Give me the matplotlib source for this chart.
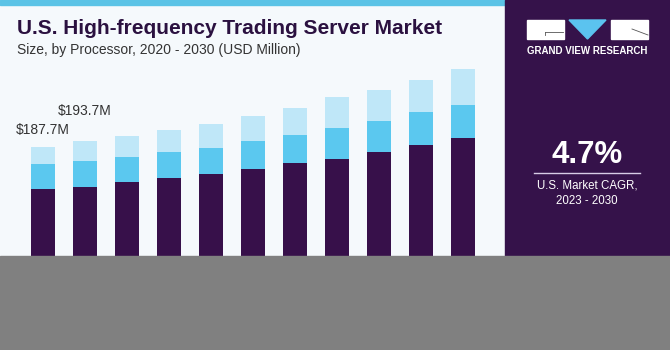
import matplotlib
matplotlib.use("Agg")
import matplotlib.pyplot as plt
from matplotlib.patches import Rectangle, Polygon
from matplotlib.lines import Line2D

years = [2020, 2021, 2022, 2023, 2024, 2025, 2026, 2027, 2028, 2029, 2030]
seg_dark = [143.5, 145.3, 150.2, 154.4, 158.6, 164.5, 170.2, 175.1, 181.8, 189.2, 197.2]
seg_mid = [25.7, 27.3, 27.0, 27.7, 28.0, 29.2, 30.1, 32.3, 33.3, 34.7, 34.1]
seg_light = [18.5, 21.1, 22.1, 23.2, 24.7, 26.6, 28.4, 32.3, 32.3, 34.0, 38.2]
value_labels = {0: "$187.7M", 1: "$193.7M"}
title = "U.S. High-frequency Trading Server Market"
subtitle = "Size, by Processor, 2020 - 2030 (USD Million)"
cagr = "4.7%"
cagr_text = "U.S. Market CAGR,\n2023 - 2030"

W, H = 670, 350
C_DARK = "#37104a"
C_MID = "#5bc8ef"
C_LIGHT = "#bfe7f8"
C_BG = "#f5f9fc"
C_PANEL = "#35124a"

def fx(x):
    return x / W

def fy(y):
    return 1 - y / H

fig = plt.figure(figsize=(6.7, 3.5), dpi=100)
fig.patch.set_facecolor(C_BG)

# axes: x 0..505 px, y 0..325 px from top
ax = fig.add_axes([0, fy(325), fx(505), 325 / H])
ax.set_facecolor(C_BG)
ax.axis("off")
x = list(range(len(years)))
bw = 24 / 42
ax.bar(x, seg_dark, width=bw, color=C_DARK, zorder=2)
bottom2 = [d for d in seg_dark]
ax.bar(x, seg_mid, width=bw, bottom=bottom2, color=C_MID, zorder=2)
bottom3 = [d + m for d, m in zip(seg_dark, seg_mid)]
ax.bar(x, seg_light, width=bw, bottom=bottom3, color=C_LIGHT, zorder=2)
ax.set_xlim(-42.7 / 42, -42.7 / 42 + 505 / 42)
ax.set_ylim(0, 325 / 0.95)

totals = [d + m + l for d, m, l in zip(seg_dark, seg_mid, seg_light)]
offsets = {0: 12, 1: 21.6}
for i, lab in value_labels.items():
    ax.annotate(lab, xy=(i, totals[i]), xytext=(0, offsets[i]), textcoords="offset points",
                ha="center", va="center", fontsize=10, color="#333333", family="Liberation Sans")

# top stripe
fig.add_artist(Rectangle((0, fy(5)), fx(505), 5 / H, transform=fig.transFigure,
                         color="#5bc3e6", zorder=3))
# title
fig.text(fx(17), fy(29), title, fontsize=15, fontweight="bold", color="#2b1140",
         va="center", ha="left", family="Liberation Sans", zorder=4)
fig.text(fx(17), fy(50), subtitle, fontsize=10, color="#333333",
         va="center", ha="left", family="Liberation Sans", zorder=4)

# right panel
fig.add_artist(Rectangle((fx(505), fy(256)), fx(165), 256 / H, transform=fig.transFigure,
                         color=C_PANEL, zorder=3))
# logo
fig.add_artist(Rectangle((fx(527), fy(39)), fx(37), 19 / H, transform=fig.transFigure,
                         color="white", zorder=4))
fig.add_artist(Rectangle((fx(611), fy(39)), fx(37), 19 / H, transform=fig.transFigure,
                         color="white", zorder=4))
fig.add_artist(Polygon([(fx(569), fy(20)), (fx(606), fy(20)), (fx(587.5), fy(39))],
                       closed=True, transform=fig.transFigure, color="#5bc3ef", zorder=4))
fig.add_artist(Line2D([fx(545), fx(563)], [fy(32), fy(32)], transform=fig.transFigure,
                      color="#555555", lw=0.6, zorder=5))
fig.add_artist(Line2D([fx(545), fx(545)], [fy(32), fy(35)], transform=fig.transFigure,
                      color="#555555", lw=0.6, zorder=5))
fig.add_artist(Line2D([fx(632), fx(648)], [fy(29), fy(35)], transform=fig.transFigure,
                      color="#555555", lw=0.6, zorder=5))
fig.text(fx(587.5), fy(50.5), "GRAND VIEW RESEARCH", fontsize=7, fontweight="bold",
         color="white", ha="center", va="center", family="Liberation Sans", zorder=5)

fig.text(fx(587), fy(155), cagr, fontsize=22.5, fontweight="bold", color="white",
         ha="center", va="center", family="Liberation Sans", zorder=5)
fig.add_artist(Line2D([fx(534), fx(640)], [fy(173.3), fy(173.3)], transform=fig.transFigure,
                      color="#d8cce6", lw=1, zorder=5))
fig.text(fx(587), fy(193), cagr_text, fontsize=8.3, color="white", ha="center", va="center",
         family="Liberation Sans", linespacing=1.35, zorder=5)

# gray bottom overlay
fig.add_artist(Rectangle((0, 0), 1, (350 - 256) / H, transform=fig.transFigure,
                         color="#808080", zorder=10))

fig.savefig("out.png", dpi=100, facecolor=fig.get_facecolor())
